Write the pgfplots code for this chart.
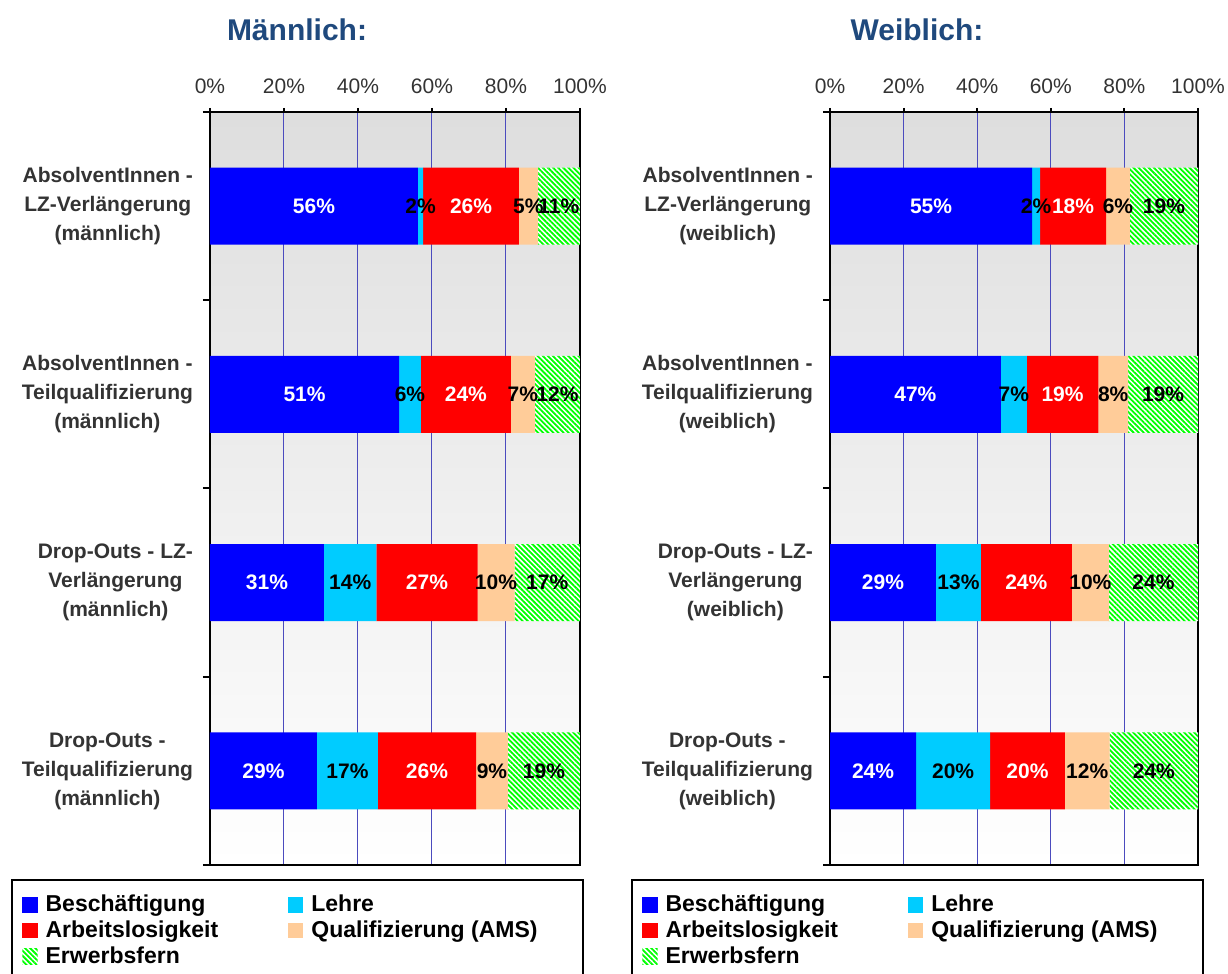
\documentclass[border=0pt]{standalone}
\usepackage{pgfplots}
\pgfplotsset{compat=1.18}
\usepackage{pgfplotstable}
\usepackage{fontspec}
\setmainfont{Liberation Sans}
\usetikzlibrary{patterns.meta}

\definecolor{cBlue}{RGB}{0,0,255}
\definecolor{cCyan}{RGB}{0,204,255}
\definecolor{cRed}{RGB}{255,0,0}
\definecolor{cPeach}{RGB}{255,204,153}
\definecolor{cGreen}{RGB}{0,255,0}
\definecolor{cGrid}{RGB}{75,75,190}
\definecolor{cTitle}{RGB}{31,73,125}
\definecolor{cText}{RGB}{51,51,51}

% pos: 3 = top category
\pgfplotstableread{
pos b    bl l    ll a    al q    ql e    el
3   56.2 56 1.4  2  25.9 26 5.1  5  11.4 11
2   51.1 51 5.9  6  24.3 24 6.5  7  12.2 12
1   30.8 31 14.2 14 27.3 27 10.0 10 17.7 17
0   28.9 29 16.5 17 26.5 26 8.6  9  19.5 19
}\maleData

\pgfplotstableread{
pos b    bl l    ll a    al q    ql e    el
3   54.9 55 2.2  2  17.9 18 6.5  6  18.5 19
2   46.4 47 7.1  7  19.4 19 8.1  8  19.0 19
1   28.8 29 12.2 13 24.7 24 10.1 10 24.2 24
0   23.4 24 20.1 20 20.3 20 12.2 12 24.0 24
}\femaleData

\pgfplotsset{
  panel/.style={
    scale only axis, width=185pt, height=376.5pt,
    xbar stacked, bar width=0.41,
    xmin=0, xmax=100, ymin=-0.5, ymax=3.5,
    axis line style={line width=1pt},
    axis background/.style={top color=black!13, bottom color=white},
    xmajorgrids=true,
    grid style={cGrid, line width=0.5pt},
    xtick={0,20,...,100},
    xtick pos=right, xticklabel pos=right,
    /pgf/number format/assume math mode=true,
    xticklabel={\pgfmathprintnumber{\tick}\%},
    xticklabel style={font=\fontsize{10.5}{12}\selectfont, text=cText, yshift=3.5pt},
    ytick={0,1,2,3},
    ytick pos=left,
    minor ytick={-0.5,0.5,1.5,2.5,3.5},
    tick align=outside,
    major tick length=2pt,
    minor tick length=3.5pt,
    every major y tick/.append style={draw=none},
    every minor y tick/.append style={black, line width=1pt},
    every major x tick/.append style={black, line width=1pt},
    yticklabel style={align=center, text=cText, xshift=-3pt,
      font=\bfseries\fontsize{10.5}{14.5}\selectfont},
    legend columns=2,
    legend cell align=left,
    legend image code/.code={\path[##1] (0pt,-3.8pt) rectangle (7.6pt,3.8pt);},
    legend style={anchor=north west, draw=none, fill=none, inner sep=0pt,
      font=\bfseries\fontsize{11.5}{12.5}\selectfont,
      nodes={inner sep=1pt},
      row sep=1pt,
      /tikz/every odd column/.append style={column sep=3pt},
      /tikz/every even column/.append style={column sep=34pt}},
  },
  seg/.style 2 args={fill=#1, draw=none,
    nodes near coords={\pgfplotspointmeta\%},
    point meta=explicit symbolic,
    every node near coord/.style={anchor=center, text=#2,
      font=\bfseries\fontsize{10.5}{12}\selectfont}},
  hatch/.style={fill=white, draw=none,
    postaction={pattern={Lines[angle=-45, distance=1.8pt, line width=0.9pt]}, pattern color=cGreen}},
}

\begin{document}
\begin{tikzpicture}
\path[use as bounding box] (0,0) rectangle (614pt,487pt);
\node[font=\bfseries\fontsize{15}{18}\selectfont, text=cTitle] at (148.5pt,472pt) {Männlich:};
\node[font=\bfseries\fontsize{15}{18}\selectfont, text=cTitle] at (458.5pt,472pt) {Weiblich:};
\draw[line width=1pt] (6pt,-5pt) rectangle (291.5pt,47pt);
\draw[line width=1pt] (316pt,-5pt) rectangle (601.5pt,47pt);

\begin{axis}[panel, at={(105pt,54.5pt)}, anchor=south west,
  yticklabels={{Drop-Outs -\\Teilqualifizierung\\(männlich)},
               {Drop-Outs - LZ-\\Verlängerung\\(männlich)},
               {AbsolventInnen -\\Teilqualifizierung\\(männlich)},
               {AbsolventInnen -\\LZ-Verlängerung\\(männlich)}},
  legend style={at={(-0.508,-0.037)}}]
\addplot[seg={cBlue}{white}] table[x=b, y=pos, meta=bl] {\maleData};
\addlegendentry{Beschäftigung}
\addplot[seg={cCyan}{black}] table[x=l, y=pos, meta=ll] {\maleData};
\addlegendentry{Lehre}
\addplot[seg={cRed}{white}] table[x=a, y=pos, meta=al] {\maleData};
\addlegendentry{Arbeitslosigkeit}
\addplot[seg={cPeach}{black}] table[x=q, y=pos, meta=ql] {\maleData};
\addlegendentry{Qualifizierung (AMS)}
\addplot[seg={white}{black}, hatch] table[x=e, y=pos, meta=el] {\maleData};
\addlegendentry{Erwerbsfern}
\end{axis}

\begin{axis}[panel, width=184pt, at={(415pt,54.5pt)}, anchor=south west,
  yticklabels={{Drop-Outs -\\Teilqualifizierung\\(weiblich)},
               {Drop-Outs - LZ-\\Verlängerung\\(weiblich)},
               {AbsolventInnen -\\Teilqualifizierung\\(weiblich)},
               {AbsolventInnen -\\LZ-Verlängerung\\(weiblich)}},
  legend style={at={(-0.511,-0.037)}}]
\addplot[seg={cBlue}{white}] table[x=b, y=pos, meta=bl] {\femaleData};
\addlegendentry{Beschäftigung}
\addplot[seg={cCyan}{black}] table[x=l, y=pos, meta=ll] {\femaleData};
\addlegendentry{Lehre}
\addplot[seg={cRed}{white}] table[x=a, y=pos, meta=al] {\femaleData};
\addlegendentry{Arbeitslosigkeit}
\addplot[seg={cPeach}{black}] table[x=q, y=pos, meta=ql] {\femaleData};
\addlegendentry{Qualifizierung (AMS)}
\addplot[seg={white}{black}, hatch] table[x=e, y=pos, meta=el] {\femaleData};
\addlegendentry{Erwerbsfern}
\end{axis}
\end{tikzpicture}
\end{document}
